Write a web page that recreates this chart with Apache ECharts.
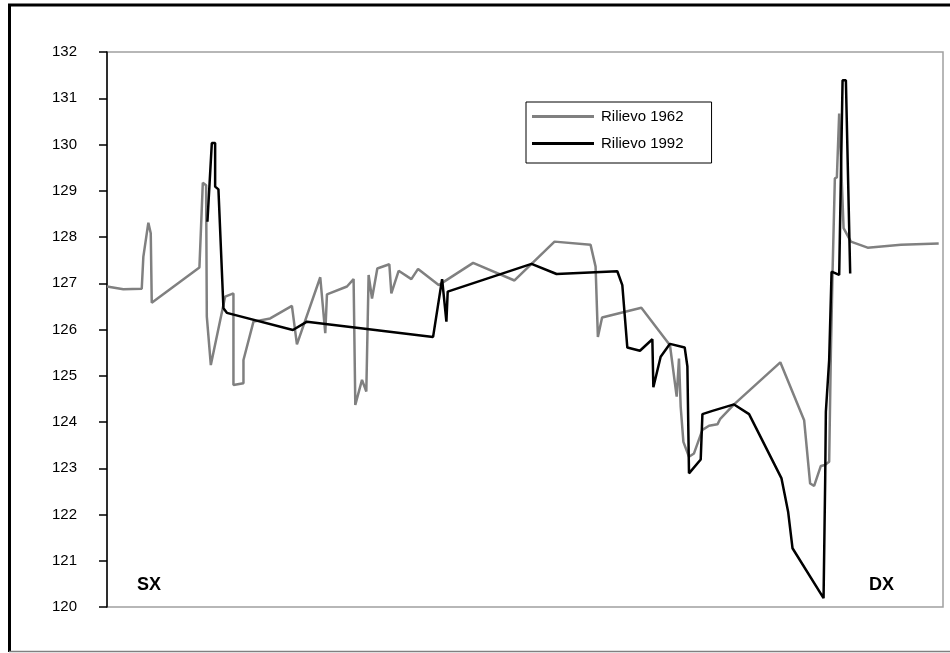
<!DOCTYPE html>
<html>
<head>
<meta charset="utf-8">
<script src="https://cdn.jsdelivr.net/npm/echarts@6/dist/echarts.min.js"></script>
<style>
  html, body { margin: 0; padding: 0; background: #fff; }
  #chart { width: 950px; height: 653px; }
</style>
</head>
<body>
<div id="chart"></div>
<script>
// distance along the cross-section (arbitrary units, 0 = left bank SX)
const dist1962 = [0, 16.3, 34.7, 36.3, 41.3, 43.7, 44.7, 92.3, 95.7, 99, 99.7, 103.7, 118, 126.3, 126.3,
  136.3, 136.3, 146.3, 163, 184.7, 189.7, 213, 218, 219.7, 239.7, 246.3, 248, 254.7, 259, 261.3, 264.7,
  270, 282, 284, 291.3, 304, 310.7, 331.3, 365.7, 407, 447, 483, 488, 490.3, 494.5, 533.7, 562.3, 569,
  571.3, 573, 575.7, 581.3, 586.3, 594.7, 601.3, 609.7, 612.3, 626.3, 672.5, 696.3, 702.3, 706.3, 713,
  717, 721.3, 723, 724.7, 727, 729, 731.3, 735.7, 743, 759.7, 793, 830.7];
const quota1962 = [126.93, 126.87, 126.88, 127.57, 128.31, 128.08, 126.58, 127.34, 129.17, 129.12, 126.28,
  125.23, 126.71, 126.78, 124.80, 124.84, 125.34, 126.17, 126.24, 126.51, 125.68, 127.13, 125.92, 126.76,
  126.93, 127.09, 124.37, 124.91, 124.66, 127.18, 126.67, 127.32, 127.41, 126.78, 127.27, 127.09, 127.31,
  126.96, 127.44, 127.06, 127.90, 127.83, 127.36, 125.84, 126.26, 126.47, 125.66, 124.55, 125.37, 124.33,
  123.57, 123.25, 123.32, 123.83, 123.92, 123.95, 124.06, 124.38, 125.29, 124.04, 122.67, 122.62, 123.05,
  123.07, 123.14, 125.5, 127.25, 129.27, 129.29, 130.67, 128.19, 127.90, 127.77, 127.83, 127.86];

const dist1992 = [100.3, 104.7, 108, 108, 111.3, 116.3, 119.7, 185.7, 199.7, 325.7, 334.7, 339, 340.3,
  424, 449, 509.7, 514.7, 519.7, 532.3, 544.7, 545.7, 553, 562.3, 577, 579.7, 581.3, 593, 594.7, 604.7,
  626.3, 641.3, 673.7, 677, 680.3, 684.7, 715.7, 717.3, 718, 721.3, 723.7, 731.3, 734.7, 738, 742.3];
const quota1992 = [128.33, 130.03, 130.03, 129.09, 129.03, 126.46, 126.36, 125.99, 126.17, 125.84, 127.09,
  126.17, 126.82, 127.42, 127.20, 127.26, 126.96, 125.61, 125.54, 125.79, 124.75, 125.41, 125.69, 125.61,
  125.20, 122.89, 123.19, 124.17, 124.24, 124.38, 124.17, 122.78, 122.42, 122.06, 121.27, 120.19, 122.71,
  124.22, 125.34, 127.25, 127.18, 131.39, 131.39, 127.21];

const yTicks = [120, 121, 122, 123, 124, 125, 126, 127, 128, 129, 130, 131, 132];
const seriesNames = ['Rilievo 1962', 'Rilievo 1992'];

const pairs = (xs, ys) => xs.map((x, i) => [x, ys[i]]);

const chart = echarts.init(document.getElementById('chart'));
const option = {
  animation: false,
  backgroundColor: '#fff',
  textStyle: { fontFamily: 'Liberation Sans, Arial, sans-serif' },
  grid: {
    left: 107, top: 52, right: 7, bottom: 46,
    show: true, borderColor: '#a0a0a0', borderWidth: 1.5
  },
  legend: {
    data: seriesNames,
    orient: 'vertical',
    left: 526, top: 102,
    padding: [7, 28, 12, 6],
    itemGap: 12,
    itemWidth: 62,
    itemHeight: 3,
    icon: 'rect',
    borderColor: '#000',
    borderWidth: 1,
    backgroundColor: '#fff',
    textStyle: { fontSize: 15, color: '#000', padding: [0, 0, 0, 2] }
  },
  xAxis: {
    type: 'value', min: 0, max: 835,
    axisLine: { show: false }, axisTick: { show: false },
    axisLabel: { show: false }, splitLine: { show: false }
  },
  yAxis: {
    type: 'value', min: yTicks[0], max: yTicks[yTicks.length - 1], interval: 1,
    axisLine: { show: true, lineStyle: { color: '#000', width: 1.5 } },
    axisTick: { show: true, length: 8, lineStyle: { color: '#000', width: 1.5 } },
    axisLabel: { color: '#000', fontSize: 15, margin: 30 },
    splitLine: { show: false }
  },
  series: [
    {
      name: seriesNames[0], type: 'line', showSymbol: false, symbol: 'none',
      color: '#808080', lineStyle: { color: '#808080', width: 2.5 },
      data: pairs(dist1962, quota1962), z: 2
    },
    {
      name: seriesNames[1], type: 'line', showSymbol: false, symbol: 'none',
      color: '#000', lineStyle: { color: '#000', width: 2.5 },
      data: pairs(dist1992, quota1992), z: 3
    }
  ],
  graphic: [
    { type: 'text', left: 137, top: 576, style: { text: 'SX', font: 'bold 18px Liberation Sans, Arial', fill: '#000' } },
    { type: 'text', left: 869, top: 576, style: { text: 'DX', font: 'bold 18px Liberation Sans, Arial', fill: '#000' } },
    { type: 'line', shape: { x1: 8, y1: 5, x2: 950, y2: 5 }, style: { stroke: '#000', lineWidth: 3 } },
    { type: 'line', shape: { x1: 9.5, y1: 4, x2: 9.5, y2: 652 }, style: { stroke: '#000', lineWidth: 3 } },
    { type: 'line', shape: { x1: 9, y1: 651.5, x2: 950, y2: 651.5 }, style: { stroke: '#808080', lineWidth: 1.5 } }
  ]
};
chart.setOption(option);
</script>
</body>
</html>
